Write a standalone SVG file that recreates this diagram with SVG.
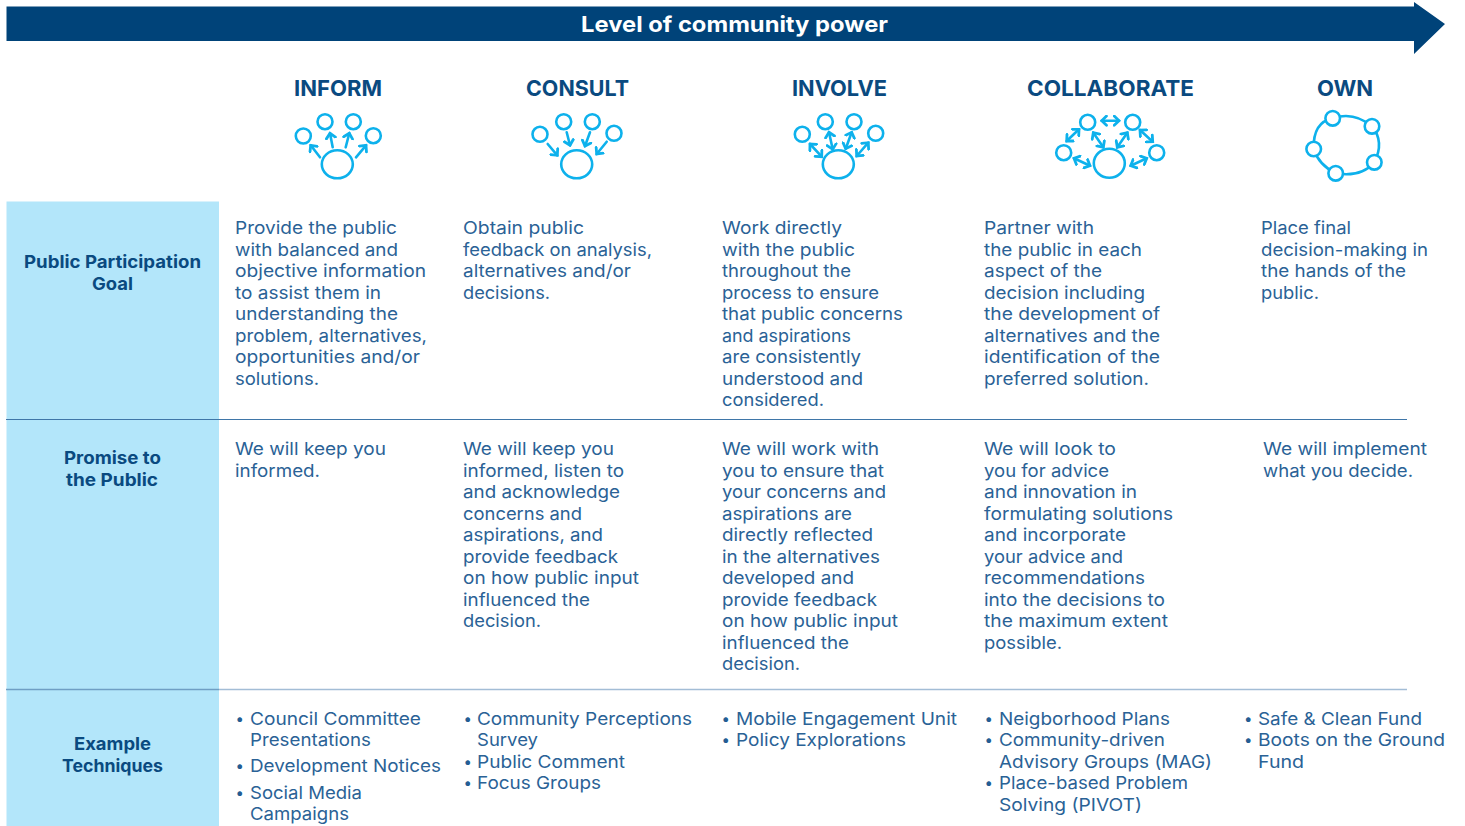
<svg xmlns="http://www.w3.org/2000/svg" width="1465" height="826" viewBox="0 0 1465 826">
<style>
text{font-family:Inter,"Noto Sans","Liberation Sans",sans-serif}
.b{font-size:17.5px;fill:#2a6296}
.p{font-size:15px;fill:#245d93}
.l{font-size:17.5px;font-weight:700;fill:#0a4a80}
.h{font-size:22px;font-weight:700;fill:#0a4a80}
.t{font-size:22px;font-weight:700;fill:#fff}
.i{fill:none;stroke:#0db1ec;stroke-width:2.6;stroke-linecap:round}
.c{fill:#fff;stroke:#0db1ec;stroke-width:2.6}
.s{marker-end:url(#a)}
.d{marker-start:url(#a);marker-end:url(#a)}
</style>
<defs>
<marker id="a" viewBox="-6 -6 8 12" refX="0" refY="0" markerWidth="8" markerHeight="12" markerUnits="userSpaceOnUse" orient="auto-start-reverse"><path d="M-4.8 -4.6L0 0L-4.8 4.6" fill="none" stroke="#0db1ec" stroke-width="2.8" stroke-linecap="round"/></marker>
</defs>
<rect width="1465" height="826" fill="#fff"/>
<g id="banner">
<path d="M6.5 6.5H1414V2L1445 24L1414 54V41H6.5Z" fill="#004379"/>
<text class="t" x="581" y="32" textLength="307" lengthAdjust="spacingAndGlyphs">Level of community power</text>
</g>
<g id="row-panel"><rect x="6.5" y="201.5" width="212.5" height="624.5" fill="#b3e6fa"/></g>
<g id="rules">
<path d="M6 419.5H1407" stroke="#3f76a8" stroke-width="1.2"/>
<path d="M6 689.5H219" stroke="#6f9fc4" stroke-width="1.6"/>
<path d="M219 689.5H1407" stroke="#a3bdd6" stroke-width="1.6"/>
</g>
<g id="row-labels">
<text class="l" lengthAdjust="spacingAndGlyphs" x="24" y="268" textLength="177">Public Participation</text>
<text class="l" lengthAdjust="spacingAndGlyphs" x="92" y="290" textLength="41">Goal</text>
<text class="l" lengthAdjust="spacingAndGlyphs" x="64" y="464" textLength="97">Promise to</text>
<text class="l" lengthAdjust="spacingAndGlyphs" x="66" y="486" textLength="92">the Public</text>
<text class="l" lengthAdjust="spacingAndGlyphs" x="74" y="750" textLength="77">Example</text>
<text class="l" lengthAdjust="spacingAndGlyphs" x="62" y="772" textLength="101">Techniques</text>
</g>
<g id="inform">
<text class="h" lengthAdjust="spacingAndGlyphs" x="294" y="96" textLength="88">INFORM</text>
<g class="i"><circle cx="303.3" cy="136" r="7.5"/><circle cx="325" cy="121.7" r="7.5"/><circle cx="353.3" cy="121.7" r="7.5"/><circle cx="373.3" cy="135.7" r="7.5"/><ellipse cx="337.3" cy="164.3" rx="15.5" ry="14"/>
<path class="s" d="M320 157.3L310.7 145.3"/><path class="s" d="M332.7 147.3L330 133.3"/><path class="s" d="M345.7 147.3L349.3 133.3"/><path class="s" d="M356 157.3L366 145.3"/></g>
<text class="b" lengthAdjust="spacingAndGlyphs" x="235" y="234" textLength="162">Provide the public</text>
<text class="b" lengthAdjust="spacingAndGlyphs" x="235" y="255.5" textLength="163">with balanced and</text>
<text class="b" lengthAdjust="spacingAndGlyphs" x="235" y="277" textLength="191">objective information</text>
<text class="b" lengthAdjust="spacingAndGlyphs" x="235" y="298.5" textLength="146">to assist them in</text>
<text class="b" lengthAdjust="spacingAndGlyphs" x="235" y="320" textLength="163">understanding the</text>
<text class="b" lengthAdjust="spacingAndGlyphs" x="235" y="342" textLength="192">problem, alternatives,</text>
<text class="b" lengthAdjust="spacingAndGlyphs" x="235" y="363" textLength="185">opportunities and/or</text>
<text class="b" lengthAdjust="spacingAndGlyphs" x="235" y="385" textLength="84">solutions.</text>
<text class="b" lengthAdjust="spacingAndGlyphs" x="235" y="455" textLength="151">We will keep you</text>
<text class="b" lengthAdjust="spacingAndGlyphs" x="235" y="476.5" textLength="85">informed.</text>
<text class="p" x="235.5" y="723.5">•</text>
<text class="b" lengthAdjust="spacingAndGlyphs" x="250" y="724.5" textLength="171">Council Committee</text>
<text class="b" lengthAdjust="spacingAndGlyphs" x="250" y="746" textLength="121">Presentations</text>
<text class="p" x="235.5" y="771">•</text>
<text class="b" lengthAdjust="spacingAndGlyphs" x="250" y="772" textLength="191">Development Notices</text>
<text class="p" x="235.5" y="797.5">•</text>
<text class="b" lengthAdjust="spacingAndGlyphs" x="250" y="798.5" textLength="112">Social Media</text>
<text class="b" lengthAdjust="spacingAndGlyphs" x="250" y="820" textLength="99">Campaigns</text>
</g>
<g id="consult">
<text class="h" lengthAdjust="spacingAndGlyphs" x="526" y="96" textLength="103">CONSULT</text>
<g class="i"><circle cx="540" cy="134.3" r="7.5"/><circle cx="563.7" cy="121.7" r="7.5"/><circle cx="592.3" cy="121.7" r="7.5"/><circle cx="614" cy="133.3" r="7.5"/><ellipse cx="576.7" cy="164.3" rx="15.5" ry="14"/>
<path class="s" d="M547.7 144L557.3 155.3"/><path class="s" d="M566.7 132.3L570 145.3"/><path class="s" d="M590 132.3L585 146"/><path class="s" d="M606.7 141.7L596.7 154"/></g>
<text class="b" lengthAdjust="spacingAndGlyphs" x="463" y="234" textLength="121">Obtain public</text>
<text class="b" lengthAdjust="spacingAndGlyphs" x="463" y="255.5" textLength="189">feedback on analysis,</text>
<text class="b" lengthAdjust="spacingAndGlyphs" x="463" y="277" textLength="168">alternatives and/or</text>
<text class="b" lengthAdjust="spacingAndGlyphs" x="463" y="298.5" textLength="87">decisions.</text>
<text class="b" lengthAdjust="spacingAndGlyphs" x="463" y="455" textLength="151">We will keep you</text>
<text class="b" lengthAdjust="spacingAndGlyphs" x="463" y="476.5" textLength="161">informed, listen to</text>
<text class="b" lengthAdjust="spacingAndGlyphs" x="463" y="498" textLength="157">and acknowledge</text>
<text class="b" lengthAdjust="spacingAndGlyphs" x="463" y="519.5" textLength="119">concerns and</text>
<text class="b" lengthAdjust="spacingAndGlyphs" x="463" y="541" textLength="140">aspirations, and</text>
<text class="b" lengthAdjust="spacingAndGlyphs" x="463" y="562.5" textLength="155">provide feedback</text>
<text class="b" lengthAdjust="spacingAndGlyphs" x="463" y="584" textLength="176">on how public input</text>
<text class="b" lengthAdjust="spacingAndGlyphs" x="463" y="605.5" textLength="127">influenced the</text>
<text class="b" lengthAdjust="spacingAndGlyphs" x="463" y="627" textLength="78">decision.</text>
<text class="p" x="463.5" y="723.5">•</text>
<text class="b" lengthAdjust="spacingAndGlyphs" x="477" y="724.5" textLength="215">Community Perceptions</text>
<text class="b" lengthAdjust="spacingAndGlyphs" x="477" y="746" textLength="61">Survey</text>
<text class="p" x="463.5" y="766.5">•</text>
<text class="b" lengthAdjust="spacingAndGlyphs" x="477" y="767.5" textLength="148">Public Comment</text>
<text class="p" x="463.5" y="788">•</text>
<text class="b" lengthAdjust="spacingAndGlyphs" x="477" y="789" textLength="124">Focus Groups</text>
</g>
<g id="involve">
<text class="h" lengthAdjust="spacingAndGlyphs" x="792" y="96" textLength="95">INVOLVE</text>
<g class="i"><circle cx="802.3" cy="134.3" r="7.5"/><circle cx="825.3" cy="121.7" r="7.5"/><circle cx="854" cy="121.7" r="7.5"/><circle cx="875.7" cy="133.3" r="7.5"/><ellipse cx="838.3" cy="164.3" rx="15.5" ry="14"/>
<path class="d" d="M810 144L821.7 156.7"/><path class="d" d="M829 132.3L832.7 149.3"/><path class="d" d="M851.7 132.3L845.7 148.7"/><path class="d" d="M868.3 142.7L856.7 156"/></g>
<text class="b" lengthAdjust="spacingAndGlyphs" x="722" y="234" textLength="120">Work directly</text>
<text class="b" lengthAdjust="spacingAndGlyphs" x="722" y="255.5" textLength="133">with the public</text>
<text class="b" lengthAdjust="spacingAndGlyphs" x="722" y="277" textLength="129">throughout the</text>
<text class="b" lengthAdjust="spacingAndGlyphs" x="722" y="298.5" textLength="157">process to ensure</text>
<text class="b" lengthAdjust="spacingAndGlyphs" x="722" y="320" textLength="181">that public concerns</text>
<text class="b" lengthAdjust="spacingAndGlyphs" x="722" y="342" textLength="129">and aspirations</text>
<text class="b" lengthAdjust="spacingAndGlyphs" x="722" y="363" textLength="139">are consistently</text>
<text class="b" lengthAdjust="spacingAndGlyphs" x="722" y="385" textLength="141">understood and</text>
<text class="b" lengthAdjust="spacingAndGlyphs" x="722" y="406" textLength="102">considered.</text>
<text class="b" lengthAdjust="spacingAndGlyphs" x="722" y="455" textLength="157">We will work with</text>
<text class="b" lengthAdjust="spacingAndGlyphs" x="722" y="476.5" textLength="162">you to ensure that</text>
<text class="b" lengthAdjust="spacingAndGlyphs" x="722" y="498" textLength="164">your concerns and</text>
<text class="b" lengthAdjust="spacingAndGlyphs" x="722" y="519.5" textLength="130">aspirations are</text>
<text class="b" lengthAdjust="spacingAndGlyphs" x="722" y="541" textLength="151">directly reflected</text>
<text class="b" lengthAdjust="spacingAndGlyphs" x="722" y="562.5" textLength="158">in the alternatives</text>
<text class="b" lengthAdjust="spacingAndGlyphs" x="722" y="584" textLength="132">developed and</text>
<text class="b" lengthAdjust="spacingAndGlyphs" x="722" y="605.5" textLength="155">provide feedback</text>
<text class="b" lengthAdjust="spacingAndGlyphs" x="722" y="627" textLength="176">on how public input</text>
<text class="b" lengthAdjust="spacingAndGlyphs" x="722" y="648.5" textLength="127">influenced the</text>
<text class="b" lengthAdjust="spacingAndGlyphs" x="722" y="670" textLength="78">decision.</text>
<text class="p" x="721.5" y="723.5">•</text>
<text class="b" lengthAdjust="spacingAndGlyphs" x="736" y="724.5" textLength="221">Mobile Engagement Unit</text>
<text class="p" x="721.5" y="745">•</text>
<text class="b" lengthAdjust="spacingAndGlyphs" x="736" y="746" textLength="170">Policy Explorations</text>
</g>
<g id="collaborate">
<text class="h" lengthAdjust="spacingAndGlyphs" x="1027" y="96" textLength="167">COLLABORATE</text>
<g class="i"><circle cx="1087.7" cy="122.3" r="7.5"/><circle cx="1132.7" cy="122.3" r="7.5"/><circle cx="1063.7" cy="152.7" r="7.5"/><circle cx="1156.7" cy="152.7" r="7.5"/><ellipse cx="1109.3" cy="163.3" rx="15.5" ry="14.5"/>
<path class="d" d="M1101.7 120.7L1119 120.7"/><path class="d" d="M1079 129.3L1066.7 141"/><path class="d" d="M1093.3 132.7L1103.3 147.3"/><path class="d" d="M1127.3 132.7L1117.3 147.3"/><path class="d" d="M1140 130L1152.7 141.7"/><path class="d" d="M1074 158.3L1090 165.7"/><path class="d" d="M1146.7 158.3L1130.7 165.7"/></g>
<text class="b" lengthAdjust="spacingAndGlyphs" x="984" y="234" textLength="110">Partner with</text>
<text class="b" lengthAdjust="spacingAndGlyphs" x="984" y="255.5" textLength="158">the public in each</text>
<text class="b" lengthAdjust="spacingAndGlyphs" x="984" y="277" textLength="118">aspect of the</text>
<text class="b" lengthAdjust="spacingAndGlyphs" x="984" y="298.5" textLength="161">decision including</text>
<text class="b" lengthAdjust="spacingAndGlyphs" x="984" y="320" textLength="176">the development of</text>
<text class="b" lengthAdjust="spacingAndGlyphs" x="984" y="342" textLength="176">alternatives and the</text>
<text class="b" lengthAdjust="spacingAndGlyphs" x="984" y="363" textLength="176">identification of the</text>
<text class="b" lengthAdjust="spacingAndGlyphs" x="984" y="385" textLength="165">preferred solution.</text>
<text class="b" lengthAdjust="spacingAndGlyphs" x="984" y="455" textLength="132">We will look to</text>
<text class="b" lengthAdjust="spacingAndGlyphs" x="984" y="476.5" textLength="125">you for advice</text>
<text class="b" lengthAdjust="spacingAndGlyphs" x="984" y="498" textLength="153">and innovation in</text>
<text class="b" lengthAdjust="spacingAndGlyphs" x="984" y="519.5" textLength="189">formulating solutions</text>
<text class="b" lengthAdjust="spacingAndGlyphs" x="984" y="541" textLength="142">and incorporate</text>
<text class="b" lengthAdjust="spacingAndGlyphs" x="984" y="562.5" textLength="139">your advice and</text>
<text class="b" lengthAdjust="spacingAndGlyphs" x="984" y="584" textLength="161">recommendations</text>
<text class="b" lengthAdjust="spacingAndGlyphs" x="984" y="605.5" textLength="181">into the decisions to</text>
<text class="b" lengthAdjust="spacingAndGlyphs" x="984" y="627" textLength="184">the maximum extent</text>
<text class="b" lengthAdjust="spacingAndGlyphs" x="984" y="649" textLength="78">possible.</text>
<text class="p" x="984.5" y="723.5">•</text>
<text class="b" lengthAdjust="spacingAndGlyphs" x="999" y="724.5" textLength="171">Neigborhood Plans</text>
<text class="p" x="984.5" y="745">•</text>
<text class="b" lengthAdjust="spacingAndGlyphs" x="999" y="746" textLength="166">Community-driven</text>
<text class="b" lengthAdjust="spacingAndGlyphs" x="999" y="767.5" textLength="213">Advisory Groups (MAG)</text>
<text class="p" x="984.5" y="788">•</text>
<text class="b" lengthAdjust="spacingAndGlyphs" x="999" y="789" textLength="189">Place-based Problem</text>
<text class="b" lengthAdjust="spacingAndGlyphs" x="999" y="810.5" textLength="143">Solving (PIVOT)</text>
</g>
<g id="own">
<text class="h" lengthAdjust="spacingAndGlyphs" x="1317" y="96" textLength="56">OWN</text>
<path class="i" d="M1332.7 118.3Q1353.7 111 1372 126.3Q1384.8 141.7 1374.3 162.3Q1361 177.6 1335.7 173.3Q1318.7 164.8 1313.7 149Q1312.8 122.3 1332.7 118.3Z"/>
<circle class="c" cx="1332.7" cy="118.3" r="7.3"/><circle class="c" cx="1372" cy="126.3" r="7.3"/><circle class="c" cx="1313.7" cy="149" r="7.3"/><circle class="c" cx="1374.3" cy="162.3" r="7.3"/><circle class="c" cx="1335.7" cy="173.3" r="7.3"/>
<text class="b" lengthAdjust="spacingAndGlyphs" x="1261" y="234" textLength="90">Place final</text>
<text class="b" lengthAdjust="spacingAndGlyphs" x="1261" y="255.5" textLength="167">decision-making in</text>
<text class="b" lengthAdjust="spacingAndGlyphs" x="1261" y="277" textLength="145">the hands of the</text>
<text class="b" lengthAdjust="spacingAndGlyphs" x="1261" y="298.5" textLength="58">public.</text>
<text class="b" lengthAdjust="spacingAndGlyphs" x="1263" y="455" textLength="164">We will implement</text>
<text class="b" lengthAdjust="spacingAndGlyphs" x="1263" y="476.5" textLength="150">what you decide.</text>
<text class="p" x="1244" y="723.5">•</text>
<text class="b" lengthAdjust="spacingAndGlyphs" x="1258" y="724.5" textLength="164">Safe &amp; Clean Fund</text>
<text class="p" x="1244" y="745">•</text>
<text class="b" lengthAdjust="spacingAndGlyphs" x="1258" y="746" textLength="187">Boots on the Ground</text>
<text class="b" lengthAdjust="spacingAndGlyphs" x="1258" y="767.5" textLength="46">Fund</text>
</g>
</svg>
